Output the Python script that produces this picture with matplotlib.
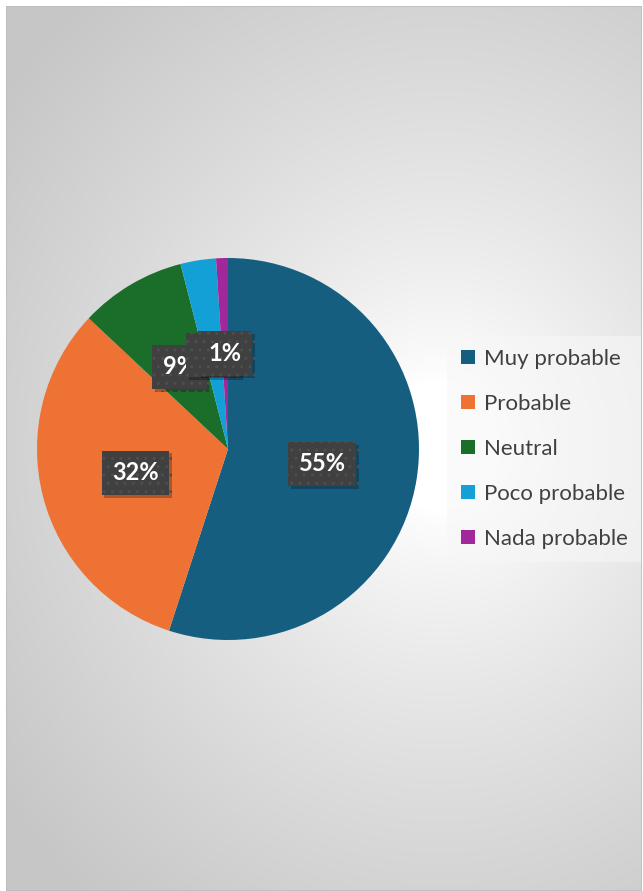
import numpy as np
import matplotlib
matplotlib.use("Agg")
import matplotlib.pyplot as plt
from matplotlib.lines import Line2D
from matplotlib.patches import Rectangle
import matplotlib.patheffects as pe

plt.rcParams['font.family'] = ['Lato', 'DejaVu Sans']

# survey answers (percent)
categories = ["Muy probable", "Probable", "Neutral", "Poco probable", "Nada probable"]
values = [55, 32, 9, 3, 1]
colors = ["#165E80", "#ED7233", "#1A6E2A", "#12A0D7", "#A0289A"]

W, H = 643, 891
fig = plt.figure(figsize=(W / 100, H / 100), dpi=100)
fig.patch.set_facecolor("white")

# chart area with a radial grey->white background
bg = fig.add_axes([6 / W, 0, (W - 7) / W, (H - 6) / H])
bg.set_axis_off()
yy, xx = np.mgrid[6:H, 6:W - 1]
d = np.hypot(xx - 440, (yy - 445) * 0.92)
t = np.clip((d - 60) / 480, 0, 1) ** 0.8
shade = 1 - 0.22 * t
bg.imshow(np.dstack([shade, shade, shade]), aspect="auto",
          extent=(0, 1, 0, 1), interpolation="bilinear")
bg.add_patch(Rectangle((0, 0), 1, 1, transform=bg.transAxes, fill=False,
                       edgecolor="#bdbdbd", lw=1.2))

# pie
cx, cy, r = 228, 449, 191
ax = fig.add_axes([(cx - r) / W, (H - cy - r) / H, 2 * r / W, 2 * r / H])
wedges, texts, autotexts = ax.pie(
    values, colors=colors, startangle=90, counterclock=False,
    autopct="%d%%", pctdistance=0.5,
    wedgeprops=dict(linewidth=0),
)
ax.set_xlim(-1, 1)
ax.set_ylim(-1, 1)
ax.set_aspect("equal")

for txt in autotexts:
    txt.set_color("white")
    txt.set_fontsize(17)
    txt.set_fontweight("bold")
    txt.set_bbox(dict(boxstyle="square,pad=0.45", facecolor="#404040",
                      edgecolor="#4e4e4e", linewidth=0, hatch=".."))
    txt.get_bbox_patch().set_path_effects([
        pe.withSimplePatchShadow(offset=(2, -2), shadow_rgbFace="black", alpha=0.25),
        pe.Normal(),
    ])

handles = [Line2D([0], [0], marker="s", linestyle="none", markersize=10,
                  markerfacecolor=c, markeredgewidth=0) for c in colors]
leg = fig.legend(handles, categories, loc="center left",
                 bbox_to_anchor=(447 / W, (H - 449) / H),
                 fontsize=16, frameon=True, handlelength=0.7,
                 handletextpad=0.35, labelspacing=1.12, borderpad=0.6,
                 borderaxespad=0, fancybox=False)
leg.get_frame().set_facecolor("#f7f7f7")
leg.get_frame().set_edgecolor("none")
leg.get_frame().set_alpha(0.6)
for t_ in leg.get_texts():
    t_.set_color("#404040")

fig.savefig("out.png", dpi=100)
